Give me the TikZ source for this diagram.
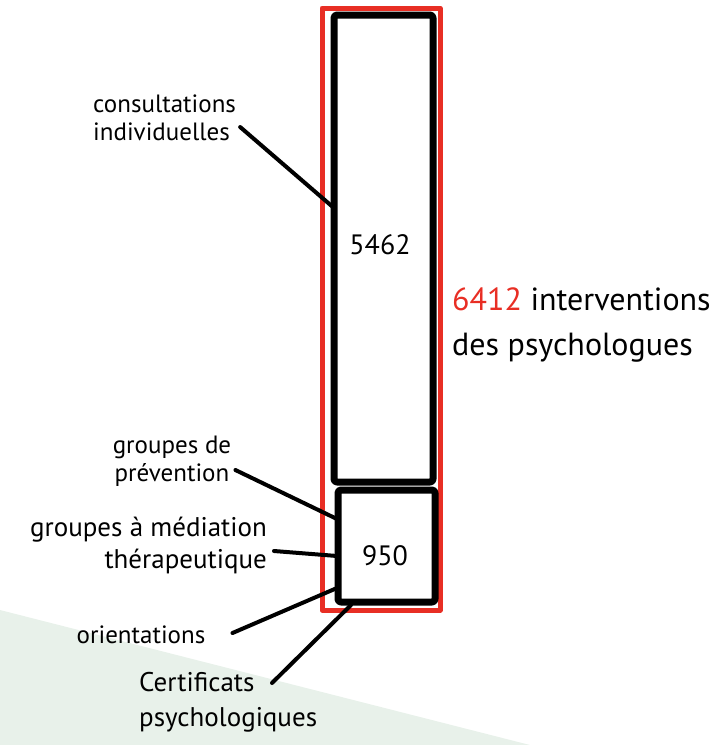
\documentclass[tikz,border=0pt]{standalone}
\usepackage{fontspec}
\setmainfont{PT Sans}
\usepackage{tikz}
\usetikzlibrary{positioning}
\definecolor{rouge}{RGB}{232,46,36}
\definecolor{vertpale}{RGB}{232,241,234}
\tikzset{
  boite/.style={draw=black,line width=7pt,rounded corners=3pt,inner sep=0pt},
  cadre/.style={draw=rouge,line width=5pt,inner sep=0pt},
  etiq/.style={font=\fontsize{25}{28}\selectfont,inner sep=1pt},
  chiffre/.style={font=\fontsize{28}{30}\selectfont},
  trait/.style={line width=4pt,line cap=round}
}

\begin{document}
\begin{tikzpicture}[line cap=round,line join=round,x=1pt,y=-1pt]
  \useasboundingbox (0,0) rectangle (727,745);
  \fill[vertpale] (0,610) -- (530,745) -- (0,745) -- cycle; %fond vert

  \node[cadre,minimum width=118pt,minimum height=602pt] (total) at (381,309) {};
  \node[boite,minimum width=99pt,minimum height=467pt] (consult) at (383.5,248.5) {};
  \node[boite,minimum width=97pt,minimum height=112pt] (groupes) at (386.5,546) {};
  \node[chiffre] (n1) at (380,245) {5462};
  \node[chiffre] (n2) at (385,556) {950};

  \node[etiq,align=left,anchor=west] (lconsult) at (92,118) {consultations\\individuelles};
  \node[etiq,align=center,font=\fontsize{25}{28}\selectfont] (lprev) at (172,461) {groupes de\\prévention};
  \node[etiq,align=right,anchor=east,font=\fontsize{27}{32}\selectfont] (lmed) at (268,545) {groupes à médiation\\thérapeutique};
  \node[etiq] (lorient) at (141,635) {orientations};
  \node[etiq,align=left,anchor=west,font=\fontsize{27}{35}\selectfont] (lcertif) at (138,702) {Certificats\\psychologiques};
  \node[align=left,anchor=west,font=\fontsize{32}{45}\selectfont,inner sep=1pt] (ltotal) at (451,325)
    {\textcolor{rouge}{6412} interventions\\des psychologues};

  \coordinate (c1) at (334,208);
  \coordinate (c2) at (337,519);
  \coordinate (c3) at (337,556);
  \coordinate (c4) at (337,588);
  \coordinate (c5) at (351,605);
  \draw[trait] ([xshift=3pt]lconsult.east |- 0,127) -- (c1);
  \draw[trait] ([xshift=3pt]lprev.east |- 0,470) -- (c2);
  \draw[trait] ([xshift=6pt]lmed.east |- 0,551) -- (c3);
  \draw[trait] ([xshift=26pt]lorient.east |- 0,633) -- (c4);%orientations
  \draw[trait] (272,683) -- (c5);%certificats
\end{tikzpicture}
\end{document}
